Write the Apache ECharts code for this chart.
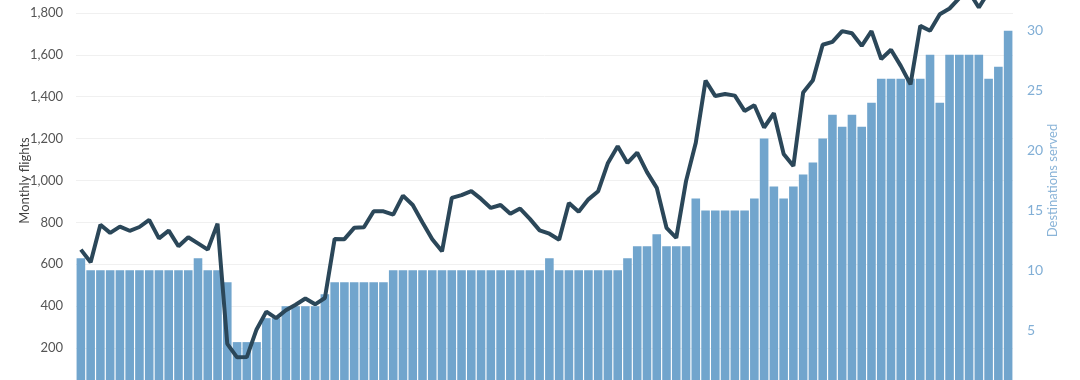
<!DOCTYPE html>
<html>
<head>
<meta charset="utf-8">
<script src="https://cdn.jsdelivr.net/npm/echarts@6/dist/echarts.min.js"></script>
<style>
html,body{margin:0;padding:0;width:1080px;height:380px;overflow:hidden;background:#fff;}
#chart{position:absolute;left:0;top:-50px;width:1080px;height:480px;}
</style>
</head>
<body>
<div id="chart"></div>
<script>
// 96 months of data
const startYear = 2016;
const months = ["Jan","Feb","Mar","Apr","May","Jun","Jul","Aug","Sep","Oct","Nov","Dec"];
const categories = [];
for (let y = 0; y < 8; y++) for (let m = 0; m < 12; m++) categories.push(months[m] + " " + (startYear + y));

const destinations = [
  11,10,10,10,10,10,10,10,10,10,10,10,11,10,10,9,
  4,4,4,6,6,7,7,7,7,8,9,9,9,9,9,9,
  10,10,10,10,10,10,10,10,10,10,10,10,10,10,10,10,
  11,10,10,10,10,10,10,10,11,12,12,13,12,12,12,16,
  15,15,15,15,15,16,21,17,16,17,18,19,21,23,22,23,
  22,24,26,26,26,26,26,28,24,28,28,28,28,26,27,30
];

const flights = [
  670,610,789,750,780,760,778,812,724,761,686,729,700,670,794,220,
  156,157,289,374,343,381,407,437,409,439,721,720,774,777,853,853,
  837,928,883,800,720,662,917,930,949,912,869,883,841,866,817,762,
  746,717,893,851,910,949,1084,1164,1084,1133,1040,965,774,726,997,1180,
  1477,1403,1413,1405,1332,1359,1253,1321,1127,1069,1420,1479,1648,1662,1713,1703,
  1643,1713,1580,1624,1547,1459,1738,1715,1794,1821,1870,1900,1826,1900,1910,1950
];

const leftTicks = {min: 0, max: 2000, interval: 200};
const rightTicks = {min: 0, max: 35, interval: 5};

const chart = echarts.init(document.getElementById('chart'));
chart.setOption({
  animation: false,
  textStyle: {fontFamily: 'Lato'},
  grid: {left: 76, right: 67, top: 21, bottom: 40},
  xAxis: {
    type: 'category',
    data: categories,
    axisLine: {show: false},
    axisTick: {show: false},
    axisLabel: {show: false}
  },
  yAxis: [
    {
      type: 'value',
      min: leftTicks.min, max: leftTicks.max, interval: leftTicks.interval,
      name: 'Monthly flights',
      nameLocation: 'middle',
      nameRotate: 90,
      nameGap: 45,
      nameMoveOverlap: false,
      nameTextStyle: {color: '#444', fontSize: 13, fontFamily: 'Lato'},
      axisLine: {show: false},
      axisTick: {show: false},
      axisLabel: {
        color: '#555', fontSize: 13, margin: 13, fontFamily: 'Lato',
        formatter: v => v.toLocaleString('en-US')
      },
      splitLine: {lineStyle: {color: '#f0f0f0', width: 1}}
    },
    {
      type: 'value',
      min: rightTicks.min, max: rightTicks.max, interval: rightTicks.interval,
      name: 'Destinations served',
      nameLocation: 'middle',
      nameRotate: 90,
      nameGap: 33,
      nameMoveOverlap: false,
      nameTextStyle: {color: '#8ab4d8', fontSize: 13, fontFamily: 'Lato'},
      axisLine: {show: false},
      axisTick: {show: false},
      axisLabel: {color: '#82afd6', fontSize: 14, margin: 14, fontFamily: 'Lato'},
      splitLine: {show: false}
    }
  ],
  series: [
    {
      name: 'Destinations served',
      type: 'bar',
      yAxisIndex: 1,
      data: destinations,
      barCategoryGap: '12%',
      itemStyle: {color: '#71a5cd'}
    },
    {
      name: 'Monthly flights',
      type: 'line',
      yAxisIndex: 0,
      data: flights,
      symbol: 'none',
      lineStyle: {color: '#2b4759', width: 4},
      z: 5
    }
  ]
});
</script>
</body>
</html>
